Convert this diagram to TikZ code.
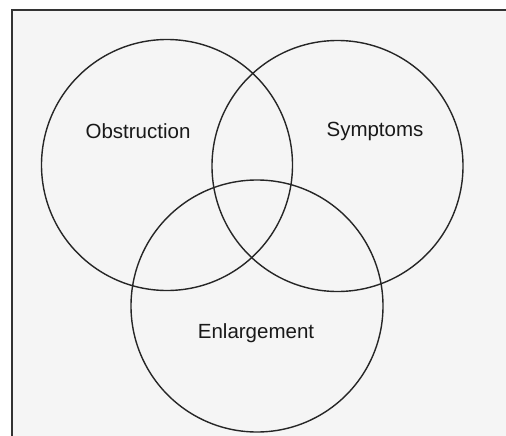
\documentclass[tikz,border=0pt]{standalone}
\usepackage{fontspec}
\setmainfont{Liberation Sans}
\begin{document}
\begin{tikzpicture}[x=1pt,y=-1pt,
  ring/.style={draw=black!85, line width=1.4pt},
  lbl/.style={font=\fontsize{20.5}{24}\selectfont, text=black!90, inner sep=0pt}]
\useasboundingbox (0,0) rectangle (506,436);
\fill[white] (0,0) rectangle (506,436);
\fill[black!4] (11.5,10.5) rectangle (506,436);
\draw[black!80, line width=2pt] (11.5,436) -- (11.5,10.5) -- (506,10.5);
\node[ring, circle, minimum size=251pt, inner sep=0pt] (obs) at (167,165) {};
\node[ring, circle, minimum size=251pt, inner sep=0pt] (sym) at (337.5,166) {};
\node[ring, circle, minimum size=252pt, inner sep=0pt] (enl) at (257,306) {};
\node[lbl] (tobs) at (138,131) {Obstruction};
\node[lbl] (tsym) at (375,131) {Symptoms};
\node[lbl] (tenl) at (256,333) {Enlargement};
\end{tikzpicture}
\end{document}
